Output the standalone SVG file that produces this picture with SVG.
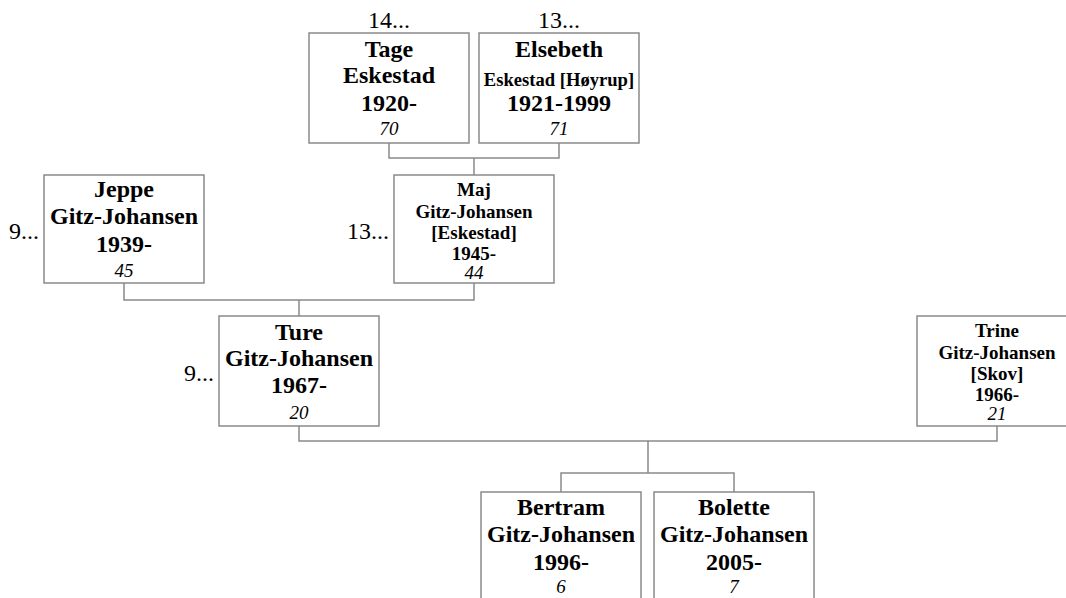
<svg xmlns="http://www.w3.org/2000/svg" width="1066" height="598" viewBox="0 0 1066 598">
<style>
.box{fill:#fff;stroke:#8a8a8a;stroke-width:1.5}
.con{fill:none;stroke:#8a8a8a;stroke-width:1.5}
text{font-family:"Liberation Serif","Times New Roman",serif;fill:#000;text-anchor:middle}
.b{font-weight:bold;font-size:24px}
.s{font-weight:bold;font-size:19px}
.e{font-weight:bold;font-size:18.6px}
.i{font-style:italic;font-size:19px}
.l{font-size:24px}
.le{font-size:24px;text-anchor:end}
</style>
<rect width="1066" height="598" fill="#fff"/>
<g id="connectors">
<path class="con" d="M389,143V158H559V143M474,158V175"/>
<path class="con" d="M124,283V300H474V283M299,300V316"/>
<path class="con" d="M299,426V441H997V426M648,441V473"/>
<path class="con" d="M561,492V473H734V492"/>
</g>
<g id="tage">
<text class="l" x="389" y="28">14...</text>
<rect class="box" x="309" y="33" width="160" height="110"/>
<text class="b" x="389" y="57">Tage</text>
<text class="b" x="389" y="83">Eskestad</text>
<text class="b" x="389" y="111">1920-</text>
<text class="i" x="389" y="135">70</text>
</g>
<g id="elsebeth">
<text class="l" x="559" y="28">13...</text>
<rect class="box" x="479" y="33" width="160" height="110"/>
<text class="b" x="559" y="57">Elsebeth</text>
<text class="e" x="559" y="86">Eskestad [Høyrup]</text>
<text class="b" x="559" y="111">1921-1999</text>
<text class="i" x="559" y="135">71</text>
</g>
<g id="jeppe">
<text class="le" x="39" y="239">9...</text>
<rect class="box" x="44" y="175" width="160" height="108"/>
<text class="b" x="124" y="197">Jeppe</text>
<text class="b" x="124" y="224">Gitz-Johansen</text>
<text class="b" x="124" y="252">1939-</text>
<text class="i" x="124" y="277">45</text>
</g>
<g id="maj">
<text class="le" x="389" y="239">13...</text>
<rect class="box" x="394" y="175" width="160" height="108"/>
<text class="s" x="474" y="196">Maj</text>
<text class="s" x="474" y="217.5">Gitz-Johansen</text>
<text class="s" x="474" y="239">[Eskestad]</text>
<text class="s" x="474" y="260">1945-</text>
<text class="i" x="474" y="279">44</text>
</g>
<g id="ture">
<text class="le" x="214" y="381">9...</text>
<rect class="box" x="219" y="316" width="160" height="110"/>
<text class="b" x="299" y="340">Ture</text>
<text class="b" x="299" y="366">Gitz-Johansen</text>
<text class="b" x="299" y="393">1967-</text>
<text class="i" x="299" y="419">20</text>
</g>
<g id="trine">
<rect class="box" x="917" y="316" width="160" height="110"/>
<text class="s" x="997" y="337">Trine</text>
<text class="s" x="997" y="359">Gitz-Johansen</text>
<text class="s" x="997" y="380">[Skov]</text>
<text class="s" x="997" y="401">1966-</text>
<text class="i" x="997" y="420">21</text>
</g>
<g id="bertram">
<rect class="box" x="481" y="492" width="160" height="110"/>
<text class="b" x="561" y="515">Bertram</text>
<text class="b" x="561" y="542">Gitz-Johansen</text>
<text class="b" x="561" y="570">1996-</text>
<text class="i" x="561" y="593">6</text>
</g>
<g id="bolette">
<rect class="box" x="654" y="492" width="160" height="110"/>
<text class="b" x="734" y="515">Bolette</text>
<text class="b" x="734" y="542">Gitz-Johansen</text>
<text class="b" x="734" y="570">2005-</text>
<text class="i" x="734" y="593">7</text>
</g>
</svg>
